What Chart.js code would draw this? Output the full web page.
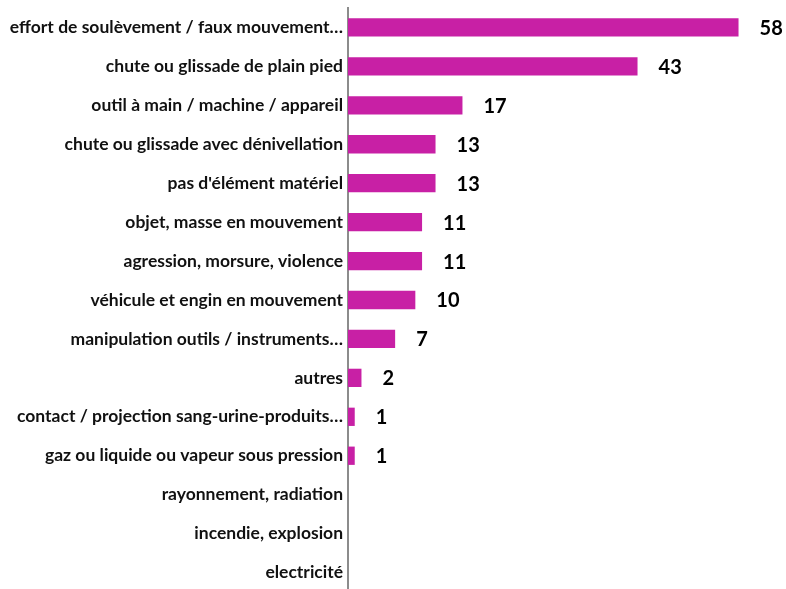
<!DOCTYPE html>
<html>
<head>
<meta charset="utf-8">
<script src="https://cdn.jsdelivr.net/npm/chart.js@4.4.1/dist/chart.umd.min.js"></script>
<style>
  html, body { margin: 0; padding: 0; background: #fff; overflow: hidden; }
  #wrap { width: 786px; height: 589px; overflow: hidden; }
  #chartCanvas { display: block; }
</style>
</head>
<body>
<!-- le canvas dépasse de 3 px : la dernière ligne est coupée par le bas -->
<div id="wrap"><canvas id="chartCanvas" width="786" height="592"></canvas></div>
<script>
// catégories d'éléments matériels et nombre d'accidents
const categories = [
  'effort de soulèvement / faux mouvement…',
  'chute ou glissade de plain pied',
  'outil à main / machine / appareil',
  'chute ou glissade avec dénivellation',
  "pas d'élément matériel",
  'objet, masse en mouvement',
  'agression, morsure, violence',
  'véhicule et engin en mouvement',
  'manipulation outils / instruments…',
  'autres',
  'contact / projection sang-urine-produits…',
  'gaz ou liquide ou vapeur sous pression',
  'rayonnement, radiation',
  'incendie, explosion',
  'electricité'
];
const valeurs = [58, 43, 17, 13, 13, 11, 11, 10, 7, 2, 1, 1, 0, 0, 0];

const AXIS_X = 348;

// étiquettes de valeur à droite des barres
const valueLabels = {
  id: 'valueLabels',
  afterDatasetsDraw(chart) {
    const ctx = chart.ctx;
    const meta = chart.getDatasetMeta(0);
    ctx.save();
    ctx.font = 'bold 20px Lato';
    ctx.fillStyle = '#000';
    ctx.textAlign = 'left';
    ctx.textBaseline = 'middle';
    meta.data.forEach((bar, i) => {
      const v = valeurs[i];
      if (!v) return;
      ctx.fillText(String(v), bar.x + 21, bar.y + 1);
    });
    ctx.restore();
  }
};

const ctx = document.getElementById('chartCanvas').getContext('2d');
const chartInstance = new Chart(ctx, {
  type: 'bar',
  data: {
    labels: categories,
    datasets: [{
      data: valeurs,
      backgroundColor: '#C820A5',
      borderWidth: 0,
      barPercentage: 0.47,
      categoryPercentage: 1,
    }],
  },
  options: {
    indexAxis: 'y',
    responsive: false,
    animation: false,
    layout: { padding: { top: 8, right: 34, bottom: 0, left: 0 } },
    scales: {
      x: {
        display: false,
        min: 0,
        max: 60,
      },
      y: {
        grid: { display: false, drawTicks: false },
        border: { display: true, color: '#8c8c8c', width: 2 },
        ticks: {
          color: '#111',
          font: { family: 'Lato', weight: 'bold', size: 17.5 },
          padding: 5,
          autoSkip: false,
        },
        afterFit(scale) {
          scale.width = AXIS_X;
          // pas de marge pour les libellés extrêmes : l'axe va jusqu'en bas
          scale.paddingTop = 0;
          scale.paddingBottom = 0;
        },
      },
    },
    plugins: {
      legend: { display: false },
      tooltip: { enabled: false },
    },
  },
  plugins: [valueLabels],
});
</script>
</body>
</html>
